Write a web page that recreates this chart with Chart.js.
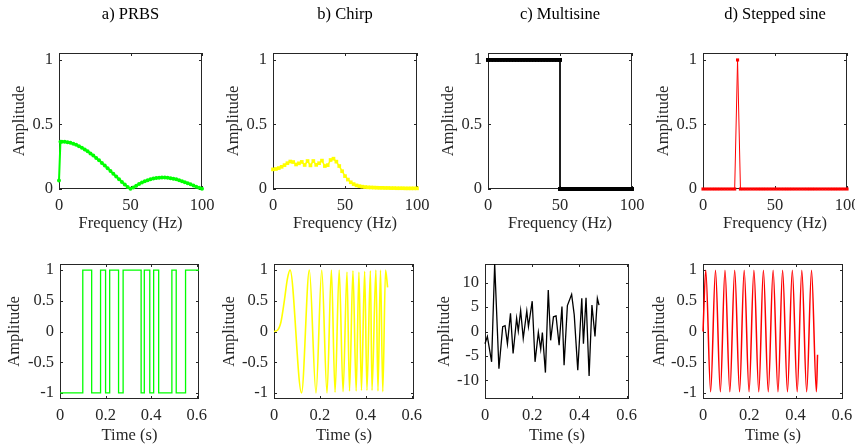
<!DOCTYPE html>
<html>
<head>
<meta charset="utf-8">
<script src="https://cdn.jsdelivr.net/npm/chart.js@4.4.1/dist/chart.umd.min.js"></script>
<style>
    body { margin: 0; width: 855px; height: 447px; overflow: hidden; background: #fff; position: relative; }
    canvas { position: absolute; }
</style>
</head>
<body>
<script>
"use strict";

// Spektrum: frekvenser (Hz)
const freqA = [0, 1, 2, 4, 6, 8, 10, 12, 14, 16, 18, 20, 22, 24, 26, 28, 30, 32, 34, 36, 38, 40, 42, 44, 46, 48, 50,
    52, 54, 56, 58, 60, 62, 64, 66, 68, 70, 72, 74, 76, 78, 80, 82, 84, 86, 88, 90, 92, 94, 96, 98, 100];
const freq2 = [0, 2, 4, 6, 8, 10, 12, 14, 16, 18, 20, 22, 24, 26, 28, 30, 32, 34, 36, 38, 40, 42, 44, 46, 48, 50,
    52, 54, 56, 58, 60, 62, 64, 66, 68, 70, 72, 74, 76, 78, 80, 82, 84, 86, 88, 90, 92, 94, 96, 98, 100];
const freqC = [0, 2, 4, 6, 8, 10, 12, 14, 16, 18, 20, 22, 24, 26, 28, 30, 32, 34, 36, 38, 40, 42, 44, 46, 48, 50,
    50, 52, 54, 56, 58, 60, 62, 64, 66, 68, 70, 72, 74, 76, 78, 80, 82, 84, 86, 88, 90, 92, 94, 96, 98, 100];

// Spektrum: amplituder
const ampPrbs = [0.065, 0.367, 0.367, 0.366, 0.363, 0.358, 0.351, 0.342, 0.332, 0.320, 0.307, 0.292, 0.276, 0.259,
    0.241, 0.222, 0.202, 0.182, 0.161, 0.140, 0.118, 0.097, 0.076, 0.055, 0.035, 0.016, 0.002,
    0.012, 0.026, 0.039, 0.050, 0.060, 0.068, 0.075, 0.081, 0.085, 0.088, 0.089, 0.089, 0.087, 0.084, 0.080,
    0.075, 0.068, 0.061, 0.053, 0.045, 0.036, 0.027, 0.018, 0.009, 0.002];
const ampChirp = [0.152, 0.155, 0.162, 0.172, 0.185, 0.200, 0.213, 0.209, 0.190, 0.199, 0.210, 0.186, 0.217,
    0.183, 0.217, 0.187, 0.200, 0.220, 0.178, 0.185, 0.225, 0.235, 0.212, 0.178, 0.138, 0.100,
    0.073, 0.052, 0.038, 0.028, 0.022, 0.018, 0.015, 0.013, 0.012, 0.011, 0.010, 0.009, 0.009, 0.008, 0.008,
    0.007, 0.007, 0.006, 0.006, 0.006, 0.005, 0.005, 0.005, 0.005, 0.005];
const ampMulti = [1, 1, 1, 1, 1, 1, 1, 1, 1, 1, 1, 1, 1, 1, 1, 1, 1, 1, 1, 1, 1, 1, 1, 1, 1, 1,
    0, 0, 0, 0, 0, 0, 0, 0, 0, 0, 0, 0, 0, 0, 0, 0, 0, 0, 0, 0, 0, 0, 0, 0, 0, 0];
const ampSine = [0, 0, 0, 0, 0, 0, 0, 0, 0, 0, 0, 0, 1, 0, 0, 0, 0, 0, 0, 0, 0, 0, 0, 0, 0, 0,
    0, 0, 0, 0, 0, 0, 0, 0, 0, 0, 0, 0, 0, 0, 0, 0, 0, 0, 0, 0, 0, 0, 0, 0, 0];

// Tidssignaler
const tPrbs = [0, 0.1, 0.139, 0.178, 0.2, 0.218, 0.257, 0.277, 0.356, 0.37, 0.394, 0.411, 0.433, 0.491, 0.51, 0.551, 0.61];
const yPrbs = [-1, 1, -1, 1, -1, 1, -1, 1, -1, 1, -1, 1, -1, 1, -1, 1, 1];

const tChirp = [0, 0.015, 0.03, 0.045, 0.058, 0.07, 0.12, 0.154, 0.183, 0.208, 0.231, 0.25, 0.266, 0.284, 0.301,
    0.318, 0.329, 0.344, 0.358, 0.37, 0.381, 0.395, 0.405, 0.42, 0.427, 0.444, 0.453, 0.464, 0.474, 0.486, 0.495];
const yChirp = [0, 0.02, 0.15, 0.5, 0.85, 1, -1, 1, -1, 1, -1, 1, -0.99, 1, -0.98, 0.97, -0.97, 0.99, -0.97, 0.97,
    -0.96, 0.98, -0.96, 0.99, -0.96, 1, -0.97, 1, -0.98, 1, 0.72];

const tMulti = [0, 0.01, 0.028, 0.041, 0.059, 0.075, 0.085, 0.095, 0.108, 0.119, 0.134, 0.141, 0.151, 0.162, 0.177,
    0.184, 0.2, 0.212, 0.226, 0.236, 0.243, 0.256, 0.268, 0.278, 0.29, 0.301, 0.314, 0.326, 0.335, 0.349,
    0.367, 0.378, 0.393, 0.41, 0.417, 0.428, 0.441, 0.453, 0.466, 0.476, 0.483];
const yMulti = [-2.5, -1.0, -6.2, 13.8, -7.6, 1.0, 1.2, -2.5, 3.7, -4.5, 2.7, 0.1, 4.3, -1.4, 4.2,
    1.0, 6.2, -6.2, -0.2, -3.6, -0.2, -8.4, 8.5, -1.8, 3.0, 3.2, -2.8, 5.1, -6.9, 5.3,
    7.6, 3.4, -7.9, 6.8, -2.5, 6.9, -9.1, 5.4, -1.0, 6.8, 5.4];

const tSine = [0, 0.012, 0.033, 0.054, 0.075, 0.095, 0.116, 0.137, 0.158, 0.178, 0.199, 0.22, 0.241, 0.261,
    0.282, 0.303, 0.324, 0.344, 0.365, 0.386, 0.407, 0.427, 0.448, 0.469, 0.49, 0.495];
const ySine = [0, 1, -0.98, 1, -0.98, 1, -0.98, 1, -0.98, 1, -0.98, 1, -0.98, 1, -0.98, 1, -0.98, 1, -0.98, 1,
    -0.98, 1, -0.98, 1, -0.98, -0.38];

// Axelmarkeringar
const titles = ["a) PRBS", "b) Chirp", "c) Multisine", "d) Stepped sine"];
const freqTicks = [0, 50, 100];
const ampTicks = [0, 0.5, 1];
const timeTicks = [0, 0.2, 0.4, 0.6];
const unitTicks = [-1, -0.5, 0, 0.5, 1];
const multiTicks = [-10, -5, 0, 5, 10];

const textColor = "#262626";
const font = { family: "'Liberation Serif', 'Times New Roman', serif", size: 16.5, lineHeight: 1.2 };

// Ram och inåtriktade tickmarkeringar (som i MATLAB)
const axesBox = {
    id: "axesBox",
    beforeDatasetsDraw(chart) {
        const { ctx, chartArea: a, scales: { x, y } } = chart;
        ctx.save();
        ctx.strokeStyle = textColor;
        ctx.lineWidth = 1;
        ctx.beginPath();
        x.ticks.forEach(t => {
            const px = Math.round(x.getPixelForValue(t.value)) + 0.5;
            ctx.moveTo(px, a.bottom); ctx.lineTo(px, a.bottom - 3);
            ctx.moveTo(px, a.top); ctx.lineTo(px, a.top + 3);
        });
        y.ticks.forEach(t => {
            const py = Math.round(y.getPixelForValue(t.value)) + 0.5;
            ctx.moveTo(a.left, py); ctx.lineTo(a.left + 3, py);
            ctx.moveTo(a.right, py); ctx.lineTo(a.right - 3, py);
        });
        ctx.stroke();
        ctx.strokeRect(a.left + 0.5, a.top + 0.5, a.right - a.left - 1, a.bottom - a.top - 1);
        ctx.restore();
    }
};

function toPoints(xs, ys) {
    return xs.map((x, i) => ({ x: x, y: ys[i] }));
}

function addChart(p) {
    const padTop = p.title ? 0 : 22;
    const top = p.title ? 0 : p.top - padTop;
    const w = p.right - p.left + p.yAxisW + 24;
    const h = p.bottom + p.xAxisH - top;
    const canvas = document.createElement("canvas");
    canvas.width = w;
    canvas.height = h;
    canvas.style.left = (p.left - p.yAxisW) + "px";
    canvas.style.top = top + "px";
    canvas.style.width = w + "px";
    canvas.style.height = h + "px";
    document.body.appendChild(canvas);

    new Chart(canvas, {
        type: "line",
        data: {
            datasets: [{
                data: toPoints(p.xs, p.ys),
                borderColor: p.color,
                backgroundColor: p.color,
                borderWidth: p.lineWidth,
                pointStyle: p.marker || "rect",
                pointRadius: p.pointRadius,
                pointBorderWidth: 0,
                pointHoverRadius: 0,
                stepped: p.stepped || false,
                cubicInterpolationMode: p.smooth ? "monotone" : "default",
                clip: false
            }]
        },
        options: {
            responsive: false,
            devicePixelRatio: 1,
            animation: false,
            layout: { padding: { top: padTop, right: 24, bottom: 0, left: 0 } },
            plugins: {
                legend: { display: false },
                tooltip: { enabled: false },
                title: {
                    display: !!p.title,
                    text: p.title,
                    fullSize: false,
                    color: "#000",
                    font: { ...font, weight: "normal" },
                    padding: { top: 5, bottom: p.top - 5 - 19.8 }
                }
            },
            scales: {
                x: {
                    type: "linear",
                    min: p.xMin,
                    max: p.xMax,
                    afterBuildTicks: s => { s.ticks = p.xTicks.map(v => ({ value: v })); },
                    afterFit: s => { s.height = p.xAxisH; },
                    grid: { display: false, drawTicks: false },
                    border: { display: false },
                    ticks: { padding: 7, color: textColor, font: font, maxRotation: 0, autoSkip: false, callback: v => String(v) },
                    title: { display: true, text: p.xLabel, color: textColor, font: font, padding: 0 }
                },
                y: {
                    type: "linear",
                    min: p.yMin,
                    max: p.yMax,
                    afterBuildTicks: s => { s.ticks = p.yTicks.map(v => ({ value: v })); },
                    afterFit: s => { s.width = p.yAxisW; },
                    grid: { display: false, drawTicks: false },
                    border: { display: false },
                    ticks: { padding: 6, color: textColor, font: font, autoSkip: false, callback: v => String(v) },
                    title: { display: true, text: "Amplitude", color: textColor, font: font, padding: 0 }
                }
            }
        },
        plugins: [axesBox]
    });
}

const topRow = { top: 53, bottom: 189, yAxisW: 49, xAxisH: 45, xMin: 0, xMax: 100, xTicks: freqTicks,
    yMin: 0, yMax: 1.054, yTicks: ampTicks, xLabel: "Frequency (Hz)" };
const bottomRow = { top: 264, bottom: 399, xAxisH: 47, xMin: 0, xMax: 0.61, xTicks: timeTicks,
    yMin: -1.1, yMax: 1.1, yTicks: unitTicks, xLabel: "Time (s)" };

// Övre raden: spektrum
addChart({ ...topRow, title: titles[0], left: 59, right: 202, xs: freqA, ys: ampPrbs,
    color: "#00ff00", lineWidth: 2, pointRadius: 2, marker: "circle" });
addChart({ ...topRow, title: titles[1], left: 273, right: 417, xs: freq2, ys: ampChirp,
    color: "#ffff00", lineWidth: 1.5, pointRadius: 2.6 });
addChart({ ...topRow, title: titles[2], left: 488, right: 632, xs: freqC, ys: ampMulti,
    color: "#000000", lineWidth: 1, pointRadius: 2.8 });
addChart({ ...topRow, title: titles[3], left: 703, right: 847, xs: freq2, ys: ampSine,
    color: "#ff0000", lineWidth: 1, pointRadius: 2.2 });

// Nedre raden: tidssignaler
addChart({ ...bottomRow, left: 60, right: 199, yAxisW: 55, xs: tPrbs, ys: yPrbs,
    color: "#00ff00", lineWidth: 1.3, pointRadius: 0, stepped: true });
addChart({ ...bottomRow, left: 274, right: 414, yAxisW: 54, xs: tChirp, ys: yChirp,
    color: "#ffff00", lineWidth: 1.6, pointRadius: 0, smooth: true });
addChart({ ...bottomRow, left: 485, right: 629, yAxisW: 50, xs: tMulti, ys: yMulti,
    yMin: -13.8, yMax: 13.8, yTicks: multiTicks, color: "#000000", lineWidth: 1.3, pointRadius: 0 });
addChart({ ...bottomRow, left: 703, right: 843, yAxisW: 53, xMax: 0.605, xs: tSine, ys: ySine,
    color: "#ff0000", lineWidth: 1.5, pointRadius: 0, smooth: true });
</script>
</body>
</html>
